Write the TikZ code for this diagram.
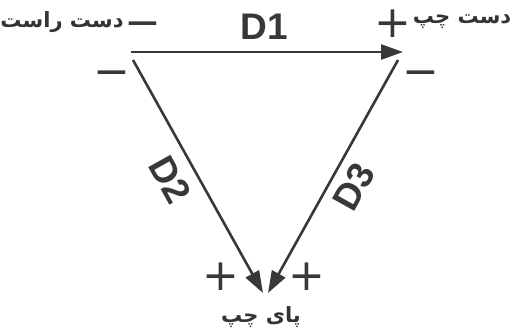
\documentclass[tikz,border=0pt]{standalone}
\usepackage{fontspec}
\setmainfont{Liberation Sans}
\newfontfamily\arabicfont[Script=Arabic]{DejaVu Sans}
\newfontfamily\signfont{DejaVu Sans}
\TeXXeTstate=1
\usetikzlibrary{arrows.meta,positioning}

\begin{document}
\begin{tikzpicture}[x=1pt,y=-1pt,
  lead/.style={draw=black!78,line width=2.6pt,-{Triangle[length=22pt,width=15pt]}},
  leadname/.style={font=\fontsize{37}{37}\selectfont\bfseries,text=black!78,inner sep=0pt},
  limb/.style={font=\arabicfont\bfseries\fontsize{21}{21}\selectfont,text=black!80,inner sep=0pt},
  sign/.style={font=\signfont\fontsize{44}{44}\selectfont,text=black!78,inner sep=0pt,
    text height=26pt,text depth=0pt}]
\useasboundingbox (0,0) rectangle (514,333);
% electrodes
\coordinate (RA) at (131,52);
\coordinate (LA) at (403,52);
\coordinate (RAd) at (133,60);
\coordinate (LAd) at (398,60);
\coordinate (LLa) at (263,293);
\coordinate (LLb) at (268,293);

% leads
\draw[lead] (RA) -- (LA);
\draw[lead] (RAd) -- (LLa);
\draw[lead] (LAd) -- (LLb);

% labels
\node[limb] (ratext) at (62,22) {\beginR دست راست\endR};
\node[sign] (ratop) at (143,24) {−};
\node[leadname] (d1) at (264,27) {D1};
\node[sign] (laplus) at (393,24) {+};
\node[limb] (latext) at (462,22) {\beginR دست چپ\endR};
\node[sign] (raminus) at (112,73) {−};
\node[sign] (laminus) at (421,73) {−};
\node[leadname,rotate=-60.8] (d2) at (170,180) {D2};
\node[leadname,rotate=60.8] (d3) at (354,187) {D3};
\node[sign] (llplusa) at (221,277) {+};
\node[sign] (llplusb) at (307,277) {+};
\node[limb] (lltext) at (261,317) {\beginR پای چپ\endR};
\end{tikzpicture}
\end{document}
